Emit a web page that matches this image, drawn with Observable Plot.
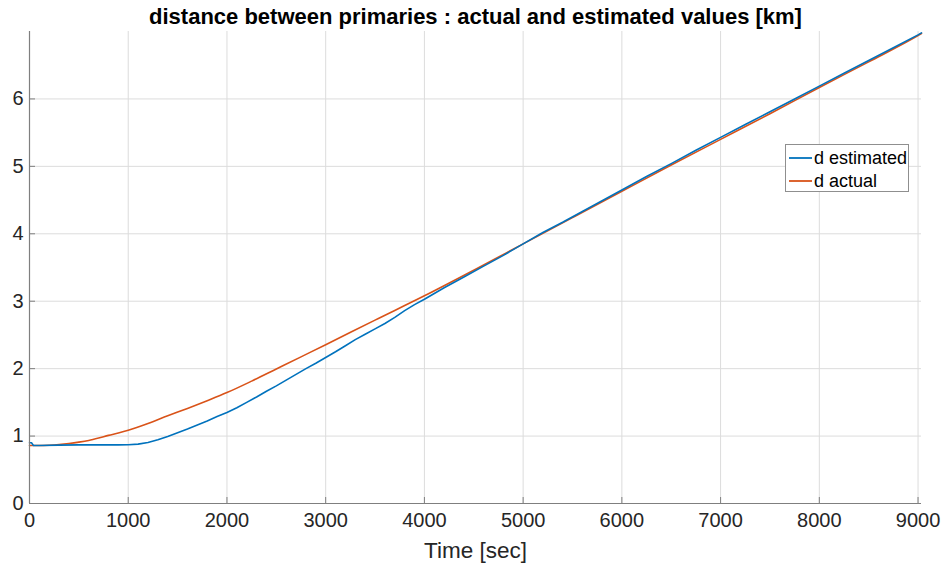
<!DOCTYPE html>
<html>
<head>
<meta charset="utf-8">
<script src="https://cdn.jsdelivr.net/npm/d3@7"></script>
<script src="https://cdn.jsdelivr.net/npm/@observablehq/plot@0.6"></script>
<style>
  html, body { margin: 0; padding: 0; background: #fff; }
  #wrap { position: relative; width: 943px; height: 566px; font-family: "Liberation Sans", Arial, sans-serif; }
  #legend { position: absolute; left: 785px; top: 144px; width: 122px; height: 46px; border: 1px solid #8f8f8f; background: #fff; box-sizing: content-box; }
  .row { position: absolute; left: 0; height: 22px; display: flex; align-items: center; font-size: 18px; color: #000; }
  .row svg { margin-left: 3px; margin-right: 2px; }
</style>
</head>
<body>
<div id="wrap"></div>
<script>
const titleText = "distance between primaries : actual and estimated values [km]";
const xLabel = "Time [sec]";
const seriesNames = ["d estimated", "d actual"];
const seriesColors = ["#0072BD", "#D95319"];
const xTicks = [0, 1000, 2000, 3000, 4000, 5000, 6000, 7000, 8000, 9000];
const yTicks = [0, 1, 2, 3, 4, 5, 6];

// d actual [km]
const tActual = [0, 100, 200, 300, 400, 500, 600, 700, 800, 900, 1000, 1200, 1400, 1600, 1800, 2000, 2250, 2500, 2750, 3000, 3500, 4000, 4500, 5000, 5500, 6000, 6500, 7000, 7500, 8000, 8500, 9000, 9035];
const dActual = [0.86, 0.86, 0.865, 0.875, 0.89, 0.91, 0.935, 0.97, 1.01, 1.045, 1.085, 1.185, 1.30, 1.41, 1.525, 1.645, 1.815, 1.995, 2.175, 2.355, 2.72, 3.08, 3.46, 3.85, 4.24, 4.63, 5.02, 5.40, 5.78, 6.17, 6.55, 6.94, 6.97];

// d estimated [km]
const tEstimated = [0, 20, 40, 100, 300, 500, 700, 900, 1000, 1100, 1200, 1300, 1400, 1500, 1600, 1700, 1800, 1900, 2000, 2100, 2200, 2300, 2400, 2500, 2600, 2700, 2800, 2900, 3000, 3100, 3200, 3300, 3400, 3500, 3600, 3700, 3800, 3900, 4000, 4200, 4400, 4600, 4800, 5000, 5200, 5400, 5600, 5800, 6000, 6250, 6500, 6750, 7000, 7250, 7500, 7750, 8000, 8250, 8500, 8750, 9000, 9035];
const dEstimated = [0.90, 0.90, 0.86, 0.86, 0.865, 0.87, 0.87, 0.87, 0.872, 0.88, 0.905, 0.945, 0.995, 1.05, 1.105, 1.165, 1.225, 1.29, 1.35, 1.42, 1.50, 1.58, 1.665, 1.745, 1.83, 1.915, 2.00, 2.08, 2.165, 2.25, 2.34, 2.43, 2.51, 2.59, 2.67, 2.76, 2.86, 2.95, 3.03, 3.20, 3.36, 3.52, 3.68, 3.85, 4.02, 4.17, 4.33, 4.49, 4.65, 4.85, 5.04, 5.24, 5.43, 5.62, 5.81, 6.00, 6.19, 6.38, 6.57, 6.76, 6.95, 6.98];

const estData = tEstimated.map((t, i) => ({t, d: dEstimated[i]}));
const actData = tActual.map((t, i) => ({t, d: dActual[i]}));

const W = 943, H = 566;
const mL = 29, mR = 22, mT = 31, mB = 63;
const frameH = H - mT - mB;
const frameW = W - mL - mR;
const tickLen = 6;
const axisColor = "#7f7f7f";
const textColor = "#262626";
const font = "Liberation Sans, Arial, sans-serif";

const chart = Plot.plot({
  width: W,
  height: H,
  marginLeft: mL,
  marginRight: mR,
  marginTop: mT,
  marginBottom: mB,
  style: { fontFamily: font, background: "#fff", overflow: "visible" },
  x: { domain: [0, 9035] },
  y: { domain: [0, 7] },
  marks: [
    Plot.gridX(xTicks, { stroke: "#dcdcdc", strokeOpacity: 1 }),
    Plot.gridY(yTicks, { stroke: "#dcdcdc", strokeOpacity: 1 }),
    Plot.line(actData, { x: "t", y: "d", stroke: seriesColors[1], strokeWidth: 1.6, curve: "monotone-x" }),
    Plot.line(estData, { x: "t", y: "d", stroke: seriesColors[0], strokeWidth: 1.6 }),
    Plot.ruleY([0], { stroke: axisColor, strokeWidth: 1.2 }),
    Plot.ruleX([0], { stroke: axisColor, strokeWidth: 1.2 }),
    Plot.ruleX(xTicks, { x: d => d, stroke: axisColor, insetTop: frameH - tickLen }),
    Plot.ruleY(yTicks, { y: d => d, stroke: axisColor, insetRight: frameW - tickLen }),
    Plot.axisX(xTicks, { tickSize: 0, tickPadding: 9, tickFormat: d3.format("d"), fontSize: 20, fill: textColor, label: null }),
    Plot.axisY(yTicks, { tickSize: 0, tickPadding: 6, tickFormat: d3.format("d"), fontSize: 20, fill: textColor, label: null }),
    Plot.text([xLabel], { frameAnchor: "bottom", lineAnchor: "middle", dy: 47, fontSize: 22.5, fill: textColor, text: d => d }),
    Plot.text([titleText], { frameAnchor: "top", lineAnchor: "middle", dy: -15, fontSize: 22, fontWeight: "bold", fill: "#000", text: d => d })
  ]
});

const wrap = document.getElementById("wrap");
wrap.appendChild(chart);

const legend = document.createElement("div");
legend.id = "legend";
seriesNames.forEach((name, i) => {
  const row = document.createElement("div");
  row.className = "row";
  row.style.top = (2 + i * 23) + "px";
  row.innerHTML = `<svg width="23" height="4"><line x1="0" y1="2" x2="23" y2="2" stroke="${seriesColors[i]}" stroke-width="1.8"/></svg><span>${name}</span>`;
  legend.appendChild(row);
});
wrap.appendChild(legend);
</script>
</body>
</html>
